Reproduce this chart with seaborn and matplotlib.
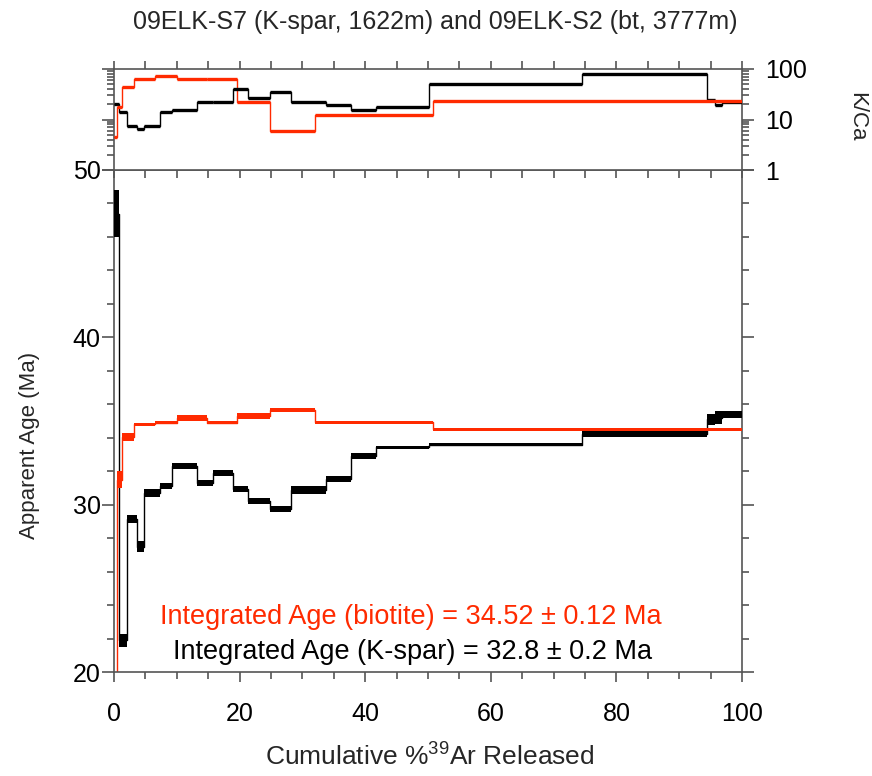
import numpy as np
import pandas as pd
import matplotlib
matplotlib.use("Agg")
import matplotlib.pyplot as plt
import seaborn as sns
from matplotlib.ticker import MultipleLocator, LogLocator, NullFormatter, FixedLocator, FixedFormatter

sns.set_theme(style="ticks")
plt.rcParams["font.family"] = ["Liberation Sans", "DejaVu Sans"]
plt.rcParams["mathtext.default"] = "regular"

# ---- data: 09ELK-S7 K-feldspar ----
kspar_edges = [0, 0.8, 2.0, 3.7, 4.85, 7.3, 9.25, 13.25, 15.8, 18.9, 21.3, 24.9,
               28.15, 33.75, 37.7, 41.7, 50.15, 74.55, 94.5, 95.7, 96.8, 100]
kspar_age = [47.4, 21.9, 29.14, 27.5, 30.7, 31.1, 32.3, 31.3, 31.9, 30.95, 30.2,
             29.75, 30.87, 31.55, 32.9, 33.42, 33.58, 34.25, 35.1, 35.2, 35.4]
kspar_err = [1.4, 0.4, 0.25, 0.35, 0.25, 0.17, 0.18, 0.18, 0.18, 0.18, 0.18,
             0.18, 0.25, 0.18, 0.2, 0.1, 0.1, 0.2, 0.33, 0.4, 0.22]
kspar_kca = [20.4, 13.9, 7.5, 6.5, 7.5, 13.9, 15.5, 21.8, 21.8, 39.6, 26.8,
             35.6, 22.2, 19.6, 15.5, 17.3, 50, 80, 24.8, 19.0, 22]

# ---- data: 09ELK-S2 biotite ----
bt_edges = [0, 0.4, 1.25, 3.25, 6.45, 10.05, 14.8, 19.65, 24.9, 32.0, 50.8, 100]
bt_age = [12.0, 31.5, 34.05, 34.8, 34.9, 35.2, 34.9, 35.3, 35.66, 34.93, 34.5]
bt_err = [2.0, 0.5, 0.25, 0.1, 0.1, 0.18, 0.08, 0.18, 0.12, 0.08, 0.08]
bt_kca = [4.6, 17.3, 45, 63, 74, 63, 63, 21.8, 6.0, 12.2, 22.9]

title = "09ELK-S7 (K-spar, 1622m) and 09ELK-S2 (bt, 3777m)"
bt_label = "Integrated Age (biotite) = 34.52 ± 0.12 Ma"
ks_label = "Integrated Age (K-spar) = 32.8 ± 0.2 Ma"

RED = "#ff2a00"
BLACK = "#000000"
SPINE = "#555555"
FS_TICK = 18
FS_TITLE = 18
FS_NOTE = 19.5
FS_XLAB = 19
FS_VERT = 16

W, H = 872, 776
fig = plt.figure(figsize=(W / 100, H / 100), dpi=100)
ax = fig.add_axes([114 / W, (H - 672) / H, 628 / W, 502 / H])
axk = fig.add_axes([114 / W, (H - 170) / H, 628 / W, 101 / H])


def draw_spectrum(a, edges, age, err, color):
    edges = np.asarray(edges, float)
    age = np.asarray(age, float)
    err = np.asarray(err, float)
    df = pd.DataFrame({"x": edges, "y": np.append(age, age[-1])})
    sns.lineplot(data=df, x="x", y="y", drawstyle="steps-post", color=color,
                 lw=1.0, ax=a, estimator=None, sort=False)
    a.bar(edges[:-1], 2 * err, width=np.diff(edges), bottom=age - err,
          align="edge", color=color, edgecolor="none", linewidth=0, zorder=3)


def draw_kca(a, edges, kca, color):
    edges = np.asarray(edges, float)
    kca = np.asarray(kca, float)
    df = pd.DataFrame({"x": edges, "y": np.append(kca, kca[-1])})
    sns.lineplot(data=df, x="x", y="y", drawstyle="steps-post", color=color,
                 lw=1.0, ax=a, estimator=None, sort=False)
    a.hlines(kca, edges[:-1], edges[1:], colors=color, lw=2.4, zorder=3)


draw_spectrum(ax, kspar_edges, kspar_age, kspar_err, BLACK)
draw_spectrum(ax, bt_edges, bt_age, bt_err, RED)

axk.set_yscale("log")
draw_kca(axk, kspar_edges, kspar_kca, BLACK)
draw_kca(axk, bt_edges, bt_kca, RED)

# main axes
ax.set_xlim(0, 100)
ax.set_ylim(20, 50)
ax.set_xlabel("")
ax.set_ylabel("")
ax.xaxis.set_major_locator(MultipleLocator(20))
ax.xaxis.set_minor_locator(MultipleLocator(5))
ax.yaxis.set_major_locator(MultipleLocator(10))
ax.yaxis.set_minor_locator(MultipleLocator(2))
ax.tick_params(axis="both", which="both", direction="out", top=False, right=True,
               labelright=False, colors=SPINE, labelcolor="black", labelsize=FS_TICK, width=1.2)
ax.tick_params(axis="x", which="major", length=7.5, pad=14)
ax.tick_params(axis="x", which="minor", length=5)
ax.tick_params(axis="y", which="major", length=8.6, pad=1)
ax.tick_params(axis="y", which="minor", length=5)

# K/Ca axes
axk.set_xlim(0, 100)
axk.set_ylim(1, 100)
axk.set_xlabel("")
axk.set_ylabel("")
axk.xaxis.set_major_locator(MultipleLocator(20))
axk.xaxis.set_minor_locator(MultipleLocator(5))
axk.yaxis.set_major_locator(FixedLocator([1, 10, 100]))
axk.yaxis.set_major_formatter(FixedFormatter(["1", "10", "100"]))
axk.yaxis.set_minor_locator(LogLocator(base=10, subs=np.arange(2, 10)))
axk.yaxis.set_minor_formatter(NullFormatter())
axk.tick_params(axis="both", which="both", direction="out", top=True, bottom=True,
                left=True, right=True, labelleft=False, labelright=True,
                labelbottom=False, labeltop=False, colors=SPINE, labelcolor="black",
                labelsize=FS_TICK, width=1.2)
axk.tick_params(axis="x", which="major", length=5.5)
axk.tick_params(axis="x", which="minor", length=5.5)
axk.tick_params(axis="y", which="major", length=8.6, pad=8)
axk.tick_params(axis="y", which="minor", length=5)

for a in (ax, axk):
    for s in a.spines.values():
        s.set_color(SPINE)
        s.set_linewidth(1.2)
    a.set_facecolor("white")

fig.text(435 / W, 1 - 22 / H, title, ha="center", va="center", fontsize=FS_TITLE)
fig.text(857 / W, 1 - 117 / H, "K/Ca", ha="center", va="center", rotation=270, fontsize=FS_VERT)
fig.text(30 / W, 1 - 445 / H, "Apparent Age (Ma)", ha="center", va="center", rotation=90, fontsize=FS_VERT)
fig.text(430 / W, 1 - 757 / H, "Cumulative %$^{39}$Ar Released", ha="center", va="center", fontsize=FS_XLAB)
fig.text(411 / W, 1 - 617 / H, bt_label, ha="center", va="center", fontsize=FS_NOTE, color=RED)
fig.text(413 / W, 1 - 652 / H, ks_label, ha="center", va="center", fontsize=FS_NOTE, color=BLACK)

fig.savefig("out.png", dpi=100, facecolor="white")
